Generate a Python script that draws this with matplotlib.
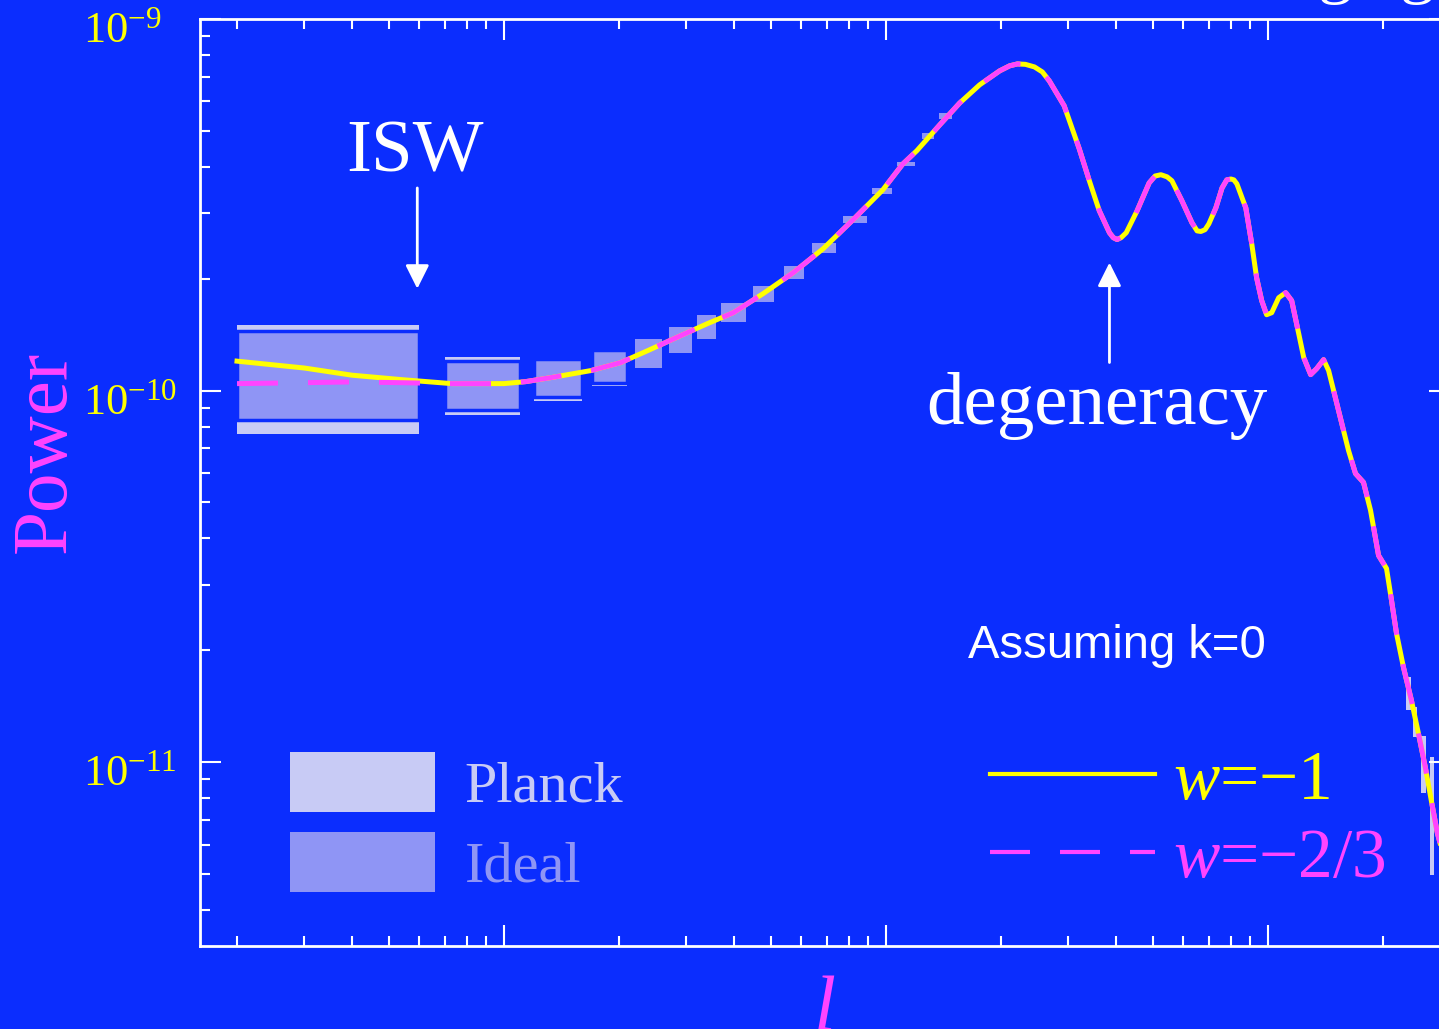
import numpy as np
import matplotlib.pyplot as plt
from matplotlib.patches import Patch
from matplotlib.lines import Line2D
from matplotlib.ticker import NullFormatter
from matplotlib.transforms import ScaledTranslation

plt.rcParams['font.family'] = 'Liberation Serif'
plt.rcParams['mathtext.fontset'] = 'custom'
plt.rcParams['mathtext.rm'] = 'Liberation Serif'
plt.rcParams['mathtext.it'] = 'Liberation Serif:italic'

BG = '#0b2dfe'
YELLOW = '#ffff00'
MAGENTA = '#ff44ff'
PLANCK = '#c8cbf5'
IDEAL = '#8f95f5'

# model spectra
ell = [2, 3, 4, 5.4, 7.3, 10, 11.4, 13.3, 16.9, 20.2, 23.8, 29.0, 34.1, 39.9,
       47.7, 57.2, 68.5, 82.0, 98.2, 110.7, 120.5, 138.4, 156, 176, 198.5,
       210.8, 221, 232, 245, 257, 268, 293, 321, 341, 362, 385, 394, 403, 413,
       426, 455, 489, 507, 525, 545, 561, 596, 633, 653, 668, 685, 701, 731,
       759, 781, 801, 815, 830, 876, 908, 935, 964, 993, 1024, 1068, 1114,
       1155, 1205, 1242, 1295, 1343, 1400, 1443, 1487, 1532, 1627, 1697, 1781,
       1858, 1950, 2046, 2108, 2173, 2266, 2377, 2479, 2585, 2679, 2780, 3000]
power_w1 = [1.20, 1.15, 1.10, 1.07, 1.044, 1.044, 1.057, 1.084, 1.132, 1.189,
            1.281, 1.405, 1.514, 1.621, 1.823, 2.076, 2.408, 2.88, 3.47, 4.07,
            4.42, 5.19, 5.94, 6.65, 7.25,
            7.48, 7.57, 7.55, 7.43, 7.20, 6.81, 5.84, 4.47, 3.67, 3.05, 2.66,
            2.58, 2.55, 2.58,
            2.66, 3.05, 3.62, 3.78, 3.81, 3.76, 3.67, 3.24, 2.83, 2.69, 2.68,
            2.71, 2.81, 3.10,
            3.51, 3.69, 3.71, 3.69, 3.60, 3.10, 2.48, 2.01, 1.746, 1.60, 1.62,
            1.778, 1.834, 1.746, 1.423, 1.227, 1.104, 1.146, 1.211, 1.132, 1.0,
            0.884, 0.690, 0.598, 0.566, 0.476, 0.360, 0.332, 0.273, 0.222,
            0.180, 0.1468, 0.1197, 0.0969, 0.079, 0.0644, 0.0482]
power_w23_low = [1.044, 1.05, 1.055, 1.05, 1.044]
power_w23 = power_w23_low + power_w1[len(power_w23_low):]

# binned errors (ideal experiment and Planck), units of 1e-10
bin_lo = [2, 7, 12, 17, 22, 27, 32, 37, 45, 54, 64, 77, 92, 107, 124, 138]
bin_hi = [6, 11, 16, 21, 26, 31, 36, 43, 51, 61, 74, 89, 104, 119, 134, 149]
ideal_top = [1.45, 1.204, 1.219, 1.288, 1.38, 1.486, 1.60, 1.724, 1.915,
             2.168, 2.49, 2.944, 3.513, 4.125, 4.94, 5.59]
ideal_bot = [0.831, 0.889, 0.958, 1.051, 1.153, 1.265, 1.38, 1.532, 1.734,
             2.0, 2.343, 2.82, 3.385, 4.03, 4.76, 5.38]
planck_top = [1.50, 1.234, 1.219, 1.288, 1.38, 1.486, 1.60, 1.724, 1.915,
              2.168, 2.49, 2.944, 3.513, 4.125, 4.94, 5.59]
planck_bot = [0.766, 0.862, 0.940, 1.031, 1.153, 1.265, 1.38, 1.532, 1.734,
              2.0, 2.343, 2.82, 3.385, 4.03, 4.76, 5.38]

# high-l Planck bins
hl_lo = [2300, 2405, 2523, 2665]
hl_hi = [2375, 2465, 2600, 2730]
hl_top = [0.169, 0.1406, 0.1175, 0.1031]
hl_bot = [0.138, 0.1167, 0.0825, 0.0497]

scale = 1e-10

fig = plt.figure(figsize=(14.39, 10.29), dpi=100)
fig.patch.set_facecolor(BG)
ax = fig.add_axes([200 / 1439, 1 - 946 / 1029, 1250 / 1439, 927 / 1029])
ax.set_facecolor(BG)
ax.set_xscale('log')
ax.set_yscale('log')
ax.set_xlim(1.6, 3000)
ax.set_ylim(3.2e-12, 1e-9)

lo = np.array(bin_lo, float)
hi = np.array(bin_hi, float)
it = np.array(ideal_top) * scale
ib = np.array(ideal_bot) * scale
pt = np.array(planck_top) * scale
pb = np.array(planck_bot) * scale

ax.bar(lo, pt - pb, width=hi - lo, bottom=pb, align='edge', color=PLANCK,
       linewidth=0, zorder=1)
gap = [2.5 if (a > b or c < d) else 0 for a, b, c, d in zip(pt, it, pb, ib)]
ax.bar(lo, it - ib, width=hi - lo, bottom=ib, align='edge', color=IDEAL,
       edgecolor=BG, linewidth=gap, zorder=2)

hlo = np.array(hl_lo, float)
hhi = np.array(hl_hi, float)
ht = np.array(hl_top) * scale
hb = np.array(hl_bot) * scale
ax.bar(hlo, ht - hb, width=hhi - hlo, bottom=hb, align='edge', color=PLANCK,
       linewidth=0, zorder=1)

ax.plot(ell, np.array(power_w1) * scale, color=YELLOW, lw=3.6,
        solid_joinstyle='round', zorder=3)
ax.plot(ell, np.array(power_w23) * scale, color=MAGENTA, lw=3.6,
        dashes=(8.2, 6.0), zorder=4)

# axes styling
for s in ax.spines.values():
    s.set_color('white')
    s.set_linewidth(2)
ax.tick_params(which='both', direction='in', colors='white', top=True,
               right=True, labelbottom=False)
ax.tick_params(which='major', length=15, width=1.5)
ax.tick_params(which='minor', length=7.5, width=1.5)
ax.set_yticks([1e-11, 1e-10, 1e-9])
ax.set_yticklabels([r'$10^{-11}$', r'$10^{-10}$', r'$10^{-9}$'], ha='left')
ax.yaxis.set_minor_formatter(NullFormatter())
ax.xaxis.set_minor_formatter(NullFormatter())
ax.tick_params(axis='y', which='major', labelcolor=YELLOW, labelsize=32,
               pad=84)
shift = ScaledTranslation(0, -8 / 100, fig.dpi_scale_trans)
for lab in ax.get_yticklabels():
    lab.set_transform(lab.get_transform() + shift)

ax.set_xlabel('l', fontstyle='italic', color=MAGENTA, fontsize=57,
              labelpad=21)
ax.set_ylabel('Power', color=MAGENTA, fontsize=57)
ax.yaxis.set_label_coords(-0.095, 0.533)

# annotations
ax.text(5.86, 3.88e-10, 'ISW', ha='center', va='baseline', color='white',
        fontsize=54)
ax.annotate('', xy=(5.93, 1.88e-10), xytext=(5.93, 3.51e-10),
            arrowprops=dict(arrowstyle='-|>', color='white', lw=2,
                            mutation_scale=36, shrinkA=0, shrinkB=0))
ax.text(356, 8.15e-11, 'degeneracy', ha='center', va='baseline',
        color='white', fontsize=54)
ax.annotate('', xy=(385, 2.21e-10), xytext=(385, 1.19e-10),
            arrowprops=dict(arrowstyle='-|>', color='white', lw=2,
                            mutation_scale=36, shrinkA=0, shrinkB=0))
ax.text(164, 1.904e-11, 'Assuming k=0', ha='left', va='baseline',
        color='white', fontsize=34, family='Liberation Sans')

# title remnants at the top edge
fig.text(1318 / 1439, 1 + 10 / 1029, 'g', color='white', fontsize=50,
         va='baseline')
fig.text(1400 / 1439, 1 + 10 / 1029, 'g', color='white', fontsize=50,
         va='baseline')

# legends
leg1 = ax.legend(handles=[Patch(facecolor=PLANCK, edgecolor='none'),
                          Patch(facecolor=IDEAL, edgecolor='none')],
                 labels=['Planck', 'Ideal'], loc='upper left',
                 bbox_to_anchor=(290 / 1439, 1 - 752 / 1029),
                 bbox_transform=fig.transFigure, frameon=False,
                 borderpad=0, borderaxespad=0, handlelength=2.49,
                 handleheight=1.195, handletextpad=0.5, labelspacing=0.32,
                 prop={'size': 42}, labelcolor=[PLANCK, IDEAL])
ax.add_artist(leg1)

h_w1 = Line2D([], [], color=YELLOW, lw=3)
h_w23 = Line2D([], [], color=MAGENTA, lw=3, dashes=(9.6, 7.2))
ax.legend(handles=[h_w1, h_w23], labels=[r'$w$=−1', r'$w$=−2/3'],
          loc='upper left', bbox_to_anchor=(990 / 1439, 1 - 750 / 1029),
          bbox_transform=fig.transFigure, frameon=False, borderpad=0,
          borderaxespad=0, handlelength=2.38, handletextpad=0.25,
          labelspacing=0.21, prop={'size': 50}, labelcolor=[YELLOW, MAGENTA])

fig.savefig('out.png', dpi=100, facecolor=BG)
